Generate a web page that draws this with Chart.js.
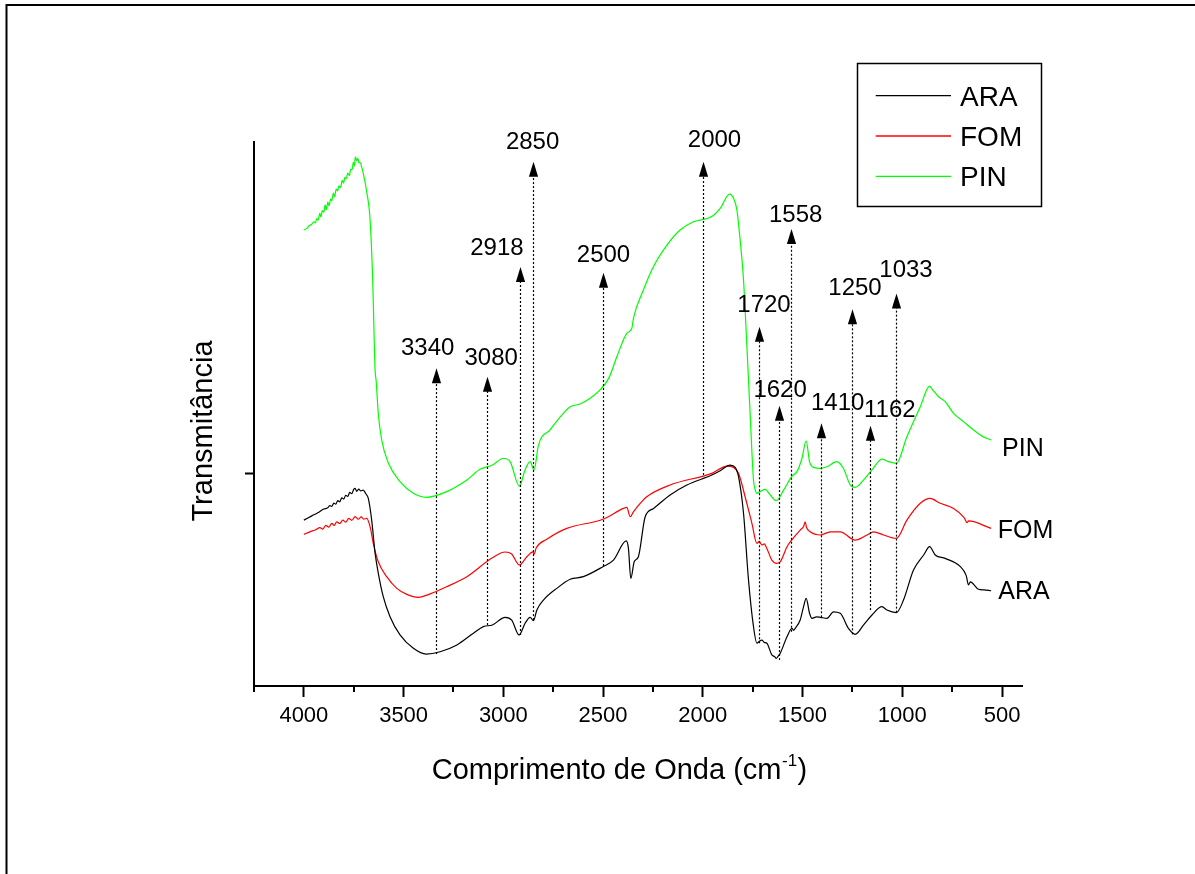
<!DOCTYPE html>
<html>
<head>
<meta charset="utf-8">
<title>Espectros de infravermelho</title>
<script src="https://cdn.jsdelivr.net/npm/chart.js@4.4.1/dist/chart.umd.min.js"></script>
<style>
  html, body { margin: 0; padding: 0; background: #ffffff; overflow: hidden; }
  canvas { display: block; }
</style>
</head>
<body>
<canvas id="ir" width="1195" height="874"></canvas>
<script>
const FONT = '"Liberation Sans", Arial, Helvetica, sans-serif';

// ---- ARA spectrum: wavenumber (cm-1) and transmittance (arbitrary units, offset) ----
const araWave = [
  4000, 3960, 3930, 3900, 3880, 3870, 3860, 3850, 3840, 3830,
  3820, 3810, 3800, 3790, 3780, 3770, 3760, 3750, 3743, 3735,
  3725, 3715, 3702, 3690, 3677, 3660, 3643, 3627, 3602, 3568,
  3518, 3451, 3387, 3317, 3233, 3150, 3100, 3055, 2991, 2958,
  2921, 2891, 2866, 2849, 2832, 2799, 2732, 2665, 2599, 2501,
  2448, 2384, 2373, 2361, 2344, 2323, 2289, 2247, 2164, 2080,
  1955, 1913, 1863, 1838, 1821, 1796, 1771, 1746, 1729, 1715,
  1704, 1692, 1679, 1654, 1640, 1632, 1624, 1612, 1578, 1553,
  1545, 1537, 1512, 1495, 1482, 1465, 1453, 1430, 1411, 1378,
  1345, 1311, 1270, 1236, 1194, 1152, 1102, 1077, 1030, 994,
  944, 893, 863, 835, 785, 709, 680, 668, 659, 618,
  590, 555
];
const araT = [
  0.780, 0.800, 0.815, 0.832, 0.838, 0.848, 0.845, 0.860, 0.855, 0.872,
  0.866, 0.885, 0.879, 0.897, 0.891, 0.910, 0.904, 0.925, 0.929, 0.915,
  0.926, 0.917, 0.921, 0.905, 0.882, 0.780, 0.625, 0.531, 0.420, 0.326,
  0.240, 0.177, 0.150, 0.161, 0.193, 0.248, 0.279, 0.287, 0.323, 0.310,
  0.240, 0.295, 0.323, 0.307, 0.357, 0.404, 0.459, 0.502, 0.514, 0.561,
  0.592, 0.682, 0.647, 0.506, 0.584, 0.608, 0.796, 0.835, 0.898, 0.945,
  0.992, 1.012, 1.039, 1.028, 0.984, 0.812, 0.498, 0.279, 0.201, 0.212,
  0.216, 0.205, 0.201, 0.146, 0.138, 0.130, 0.138, 0.154, 0.232, 0.271,
  0.262, 0.271, 0.310, 0.373, 0.412, 0.342, 0.318, 0.325, 0.323, 0.318,
  0.349, 0.342, 0.271, 0.243, 0.287, 0.334, 0.373, 0.357, 0.345, 0.404,
  0.545, 0.616, 0.655, 0.616, 0.600, 0.561, 0.520, 0.475, 0.490, 0.455,
  0.452, 0.448
];

// ---- FOM spectrum ----
const fomWave = [
  4000, 3970, 3940, 3920, 3905, 3890, 3875, 3860, 3848, 3835,
  3820, 3805, 3790, 3775, 3760, 3743, 3728, 3712, 3700, 3685,
  3668, 3652, 3627, 3585, 3534, 3484, 3426, 3367, 3284, 3183,
  3055, 2991, 2958, 2920, 2882, 2852, 2846, 2835, 2782, 2682,
  2501, 2398, 2381, 2364, 2348, 2314, 2281, 2164, 1955, 1879,
  1846, 1821, 1788, 1754, 1729, 1717, 1704, 1692, 1679, 1654,
  1632, 1612, 1578, 1548, 1512, 1495, 1487, 1480, 1462, 1411,
  1361, 1311, 1236, 1177, 1144, 1094, 1030, 977, 910, 860,
  810, 743, 690, 675, 668, 555
];
const fomT = [
  0.713, 0.725, 0.735, 0.745, 0.738, 0.755, 0.747, 0.765, 0.755, 0.772,
  0.764, 0.780, 0.770, 0.788, 0.779, 0.796, 0.784, 0.795, 0.785, 0.788,
  0.749, 0.671, 0.584, 0.514, 0.459, 0.431, 0.417, 0.433, 0.467, 0.514,
  0.603, 0.630, 0.621, 0.569, 0.608, 0.631, 0.620, 0.650, 0.690, 0.741,
  0.784, 0.835, 0.840, 0.796, 0.819, 0.859, 0.890, 0.945, 1.000, 1.034,
  1.028, 1.000, 0.890, 0.765, 0.671, 0.680, 0.663, 0.668, 0.647, 0.592,
  0.577, 0.584, 0.655, 0.694, 0.733, 0.750, 0.772, 0.745, 0.725, 0.710,
  0.725, 0.725, 0.686, 0.710, 0.725, 0.710, 0.694, 0.780, 0.859, 0.882,
  0.859, 0.835, 0.792, 0.768, 0.776, 0.741
];

// ---- PIN spectrum ----
const pinWave = [
  4000, 3985, 3972, 3962, 3950, 3942, 3935, 3928, 3920, 3914,
  3908, 3900, 3893, 3887, 3880, 3874, 3866, 3860, 3852, 3846,
  3838, 3831, 3824, 3816, 3808, 3801, 3794, 3787, 3780, 3772,
  3765, 3758, 3752, 3747, 3742, 3736, 3730, 3724, 3718, 3710,
  3702, 3685, 3668, 3655, 3643, 3638, 3627, 3610, 3576, 3518,
  3451, 3387, 3284, 3183, 3117, 3055, 3000, 2966, 2920, 2891,
  2866, 2846, 2824, 2766, 2707, 2665, 2615, 2565, 2515, 2470,
  2431, 2381, 2356, 2348, 2298, 2248, 2180, 2114, 2047, 1958,
  1913, 1866, 1846, 1829, 1813, 1796, 1779, 1763, 1746, 1737,
  1729, 1712, 1687, 1662, 1632, 1595, 1553, 1528, 1503, 1482,
  1465, 1445, 1411, 1378, 1328, 1295, 1261, 1236, 1194, 1152,
  1102, 1069, 1030, 977, 910, 863, 850, 818, 785, 743,
  693, 643, 600, 555
];
const pinT = [
  2.144, 2.152, 2.165, 2.170, 2.183, 2.178, 2.198, 2.192, 2.222, 2.205,
  2.236, 2.228, 2.262, 2.240, 2.275, 2.258, 2.290, 2.282, 2.318, 2.300,
  2.336, 2.328, 2.352, 2.345, 2.378, 2.365, 2.392, 2.386, 2.412, 2.400,
  2.430, 2.428, 2.462, 2.445, 2.488, 2.470, 2.482, 2.460, 2.462, 2.440,
  2.410, 2.324, 2.191, 1.909, 1.486, 1.439, 1.282, 1.157, 1.047, 0.961,
  0.906, 0.887, 0.914, 0.969, 1.019, 1.039, 1.071, 1.055, 0.940, 1.016,
  1.055, 1.016, 1.133, 1.204, 1.274, 1.313, 1.326, 1.353, 1.392, 1.450,
  1.548, 1.658, 1.682, 1.729, 1.862, 1.971, 2.073, 2.144, 2.183, 2.206,
  2.246, 2.313, 2.293, 2.238, 2.097, 1.909, 1.595, 1.282, 0.969, 0.921,
  0.906, 0.915, 0.925, 0.898, 0.871, 0.921, 0.987, 1.008, 1.071, 1.153,
  1.055, 1.028, 1.023, 1.031, 1.055, 1.023, 0.945, 0.934, 0.969, 1.016,
  1.067, 1.055, 1.047, 1.172, 1.313, 1.410, 1.395, 1.360, 1.337, 1.282,
  1.243, 1.204, 1.175, 1.157
];

// ---- x-axis tick values (major every 500, minor every 250) ----
const xTickValues = [4250, 4000, 3750, 3500, 3250, 3000, 2750, 2500, 2250, 2000, 1750, 1500, 1250, 1000, 750, 500];
const xMajorStep = 500;

// ---- band assignments: wavenumber, arrow tip level and foot level (transmittance units) ----
const bandWave = [3340, 3080, 2918, 2850, 2500, 2000, 1720, 1620, 1558, 1410, 1250, 1162, 1033];
const bandTip  = [1.494, 1.454, 1.970, 2.465, 1.943, 2.465, 1.689, 1.318, 2.149, 1.235, 1.771, 1.224, 1.846];
const bandFoot = [0.150, 0.287, 0.240, 0.310, 0.564, 0.992, 0.201, 0.122, 0.255, 0.323, 0.243, 0.357, 0.345];

// label placement around each arrow tip (pixels)
const bandLabelDx  = [-8.8, 3.7, -23.6, -0.9, 0, 11, 4.5, 0.6, 4.2, 16.2, 2.5, 19.3, 9.5];
const bandLabelGap = [13.3, 11.7, 12, 12.7, 11, 15, 15, 9, 7.3, 13.3, 14.3, 9, 16.6];

// series names and colours
const seriesNames  = ['ARA', 'FOM', 'PIN'];
const seriesColors = ['#000000', '#ff0000', '#00ff00'];

// end-of-curve labels: left edge (cm-1) and baseline level
const endLabelWave = [519, 522, 500];
const endLabelBase = [0.408, 0.697, 1.081];

function toPoints(w, t) { return w.map((x, i) => ({ x: x, y: t[i] })); }

const decorations = {
  id: 'decorations',
  beforeDraw(chart) {
    const ctx = chart.ctx;
    ctx.save();
    ctx.fillStyle = '#ffffff';
    ctx.fillRect(0, 0, chart.width, chart.height);
    // outer frame (top and left edges)
    ctx.strokeStyle = '#000000';
    ctx.lineWidth = 2;
    ctx.beginPath();
    ctx.moveTo(6.5, chart.height);
    ctx.lineTo(6.5, 5);
    ctx.lineTo(chart.width, 5);
    ctx.stroke();
    ctx.restore();
  },
  afterDatasetsDraw(chart) {
    const ctx = chart.ctx;
    const xs = chart.scales.x, ys = chart.scales.y;
    ctx.save();
    for (let i = 0; i < bandWave.length; i++) {
      const px = Math.round(xs.getPixelForValue(bandWave[i])) + 0.5;
      const tip = ys.getPixelForValue(bandTip[i]);
      const foot = ys.getPixelForValue(bandFoot[i]);
      // dotted shaft
      ctx.strokeStyle = '#000000';
      ctx.lineWidth = 1.2;
      ctx.setLineDash([2, 2]);
      ctx.beginPath();
      ctx.moveTo(px, foot);
      ctx.lineTo(px, tip + 14);
      ctx.stroke();
      ctx.setLineDash([]);
      // arrow head
      ctx.fillStyle = '#000000';
      ctx.beginPath();
      ctx.moveTo(px, tip);
      ctx.lineTo(px - 4.6, tip + 15);
      ctx.lineTo(px + 4.6, tip + 15);
      ctx.closePath();
      ctx.fill();
      // wavenumber label
      ctx.font = '24px ' + FONT;
      ctx.textAlign = 'center';
      ctx.textBaseline = 'alphabetic';
      ctx.fillText(String(bandWave[i]), px + bandLabelDx[i], tip - bandLabelGap[i]);
    }
    ctx.restore();
  },
  afterDraw(chart) {
    const ctx = chart.ctx;
    const xs = chart.scales.x, ys = chart.scales.y;
    const area = chart.chartArea;
    ctx.save();

    // minor ticks on the x axis
    ctx.strokeStyle = '#000000';
    ctx.lineWidth = 2;
    xTickValues.forEach(v => {
      if (v % xMajorStep !== 0) {
        const px = Math.round(xs.getPixelForValue(v));
        ctx.beginPath();
        ctx.moveTo(px, area.bottom);
        ctx.lineTo(px, area.bottom + 6);
        ctx.stroke();
      }
    });

    // x axis title with superscript
    ctx.fillStyle = '#000000';
    ctx.textBaseline = 'alphabetic';
    ctx.textAlign = 'left';
    const mainTxt = 'Comprimento de Onda (cm';
    ctx.font = '29px ' + FONT;
    const wMain = ctx.measureText(mainTxt).width;
    const wClose = ctx.measureText(')').width;
    ctx.font = '17px ' + FONT;
    const wSup = ctx.measureText('-1').width;
    const x0 = 619 - (wMain + wSup + wClose) / 2;
    const base = 779;
    ctx.font = '29px ' + FONT;
    ctx.fillText(mainTxt, x0, base);
    ctx.font = '17px ' + FONT;
    ctx.fillText('-1', x0 + wMain + 0.5, base - 13);
    ctx.font = '29px ' + FONT;
    ctx.fillText(')', x0 + wMain + wSup + 1, base);

    // y axis title
    ctx.save();
    ctx.translate(212, 431);
    ctx.rotate(-Math.PI / 2);
    ctx.textAlign = 'center';
    ctx.font = '29px ' + FONT;
    ctx.fillText('Transmitância', 0, 0);
    ctx.restore();

    // labels at the right end of each curve
    ctx.font = '25px ' + FONT;
    ctx.textAlign = 'left';
    chart.data.datasets.forEach((ds, i) => {
      ctx.fillStyle = '#000000';
      ctx.fillText(ds.label, xs.getPixelForValue(endLabelWave[i]), ys.getPixelForValue(endLabelBase[i]));
    });

    // legend box
    const lx = 857.5, ly = 63.5, lw = 184, lh = 143;
    ctx.strokeStyle = '#000000';
    ctx.lineWidth = 1.5;
    ctx.strokeRect(lx, ly, lw, lh);
    ctx.font = '28px ' + FONT;
    chart.data.datasets.forEach((ds, i) => {
      const y = 95.7 + i * 40.3;
      ctx.strokeStyle = ds.borderColor;
      ctx.lineWidth = 1.3;
      ctx.beginPath();
      ctx.moveTo(875.7, y);
      ctx.lineTo(951, y);
      ctx.stroke();
      ctx.fillStyle = '#000000';
      ctx.fillText(ds.label, 960, y + 9.8);
    });

    ctx.restore();
  }
};

const seriesWaves = [araWave, fomWave, pinWave];
const seriesValues = [araT, fomT, pinT];

new Chart(document.getElementById('ir').getContext('2d'), {
  type: 'line',
  data: {
    datasets: seriesNames.map((name, i) => ({
      label: name,
      data: toPoints(seriesWaves[i], seriesValues[i]),
      borderColor: seriesColors[i],
      backgroundColor: seriesColors[i],
      borderWidth: 1.2,
      pointRadius: 0,
      fill: false,
      cubicInterpolationMode: 'monotone'
    }))
  },
  options: {
    responsive: false,
    animation: false,
    devicePixelRatio: 1,
    layout: { padding: { left: 0, top: 142, right: 173, bottom: 0 } },
    plugins: { legend: { display: false }, tooltip: { enabled: false } },
    scales: {
      x: {
        type: 'linear',
        reverse: true,
        min: 400,
        max: 4250,
        afterBuildTicks: s => { s.ticks = xTickValues.map(v => ({ value: v })); },
        afterFit: s => { s.height = 188; },
        grid: {
          drawOnChartArea: false,
          drawTicks: true,
          tickLength: 11,
          tickWidth: 2,
          tickColor: c => (c.tick && c.tick.value % xMajorStep === 0) ? '#000000' : 'rgba(0,0,0,0)'
        },
        border: { display: true, color: '#000000', width: 2 },
        ticks: {
          autoSkip: false,
          maxRotation: 0,
          minRotation: 0,
          padding: 6,
          color: '#000000',
          font: { family: FONT, size: 22 },
          callback: v => (v % xMajorStep === 0 ? String(v) : '')
        }
      },
      y: {
        type: 'linear',
        min: 0,
        max: 2.558,
        afterBuildTicks: s => { s.ticks = [{ value: 1 }]; },
        afterFit: s => { s.width = 254; },
        grid: { drawOnChartArea: false, drawTicks: true, tickLength: 9, tickWidth: 2, tickColor: '#000000' },
        border: { display: true, color: '#000000', width: 2 },
        ticks: { padding: 0, callback: () => '' }
      }
    }
  },
  plugins: [decorations]
});
</script>
</body>
</html>
